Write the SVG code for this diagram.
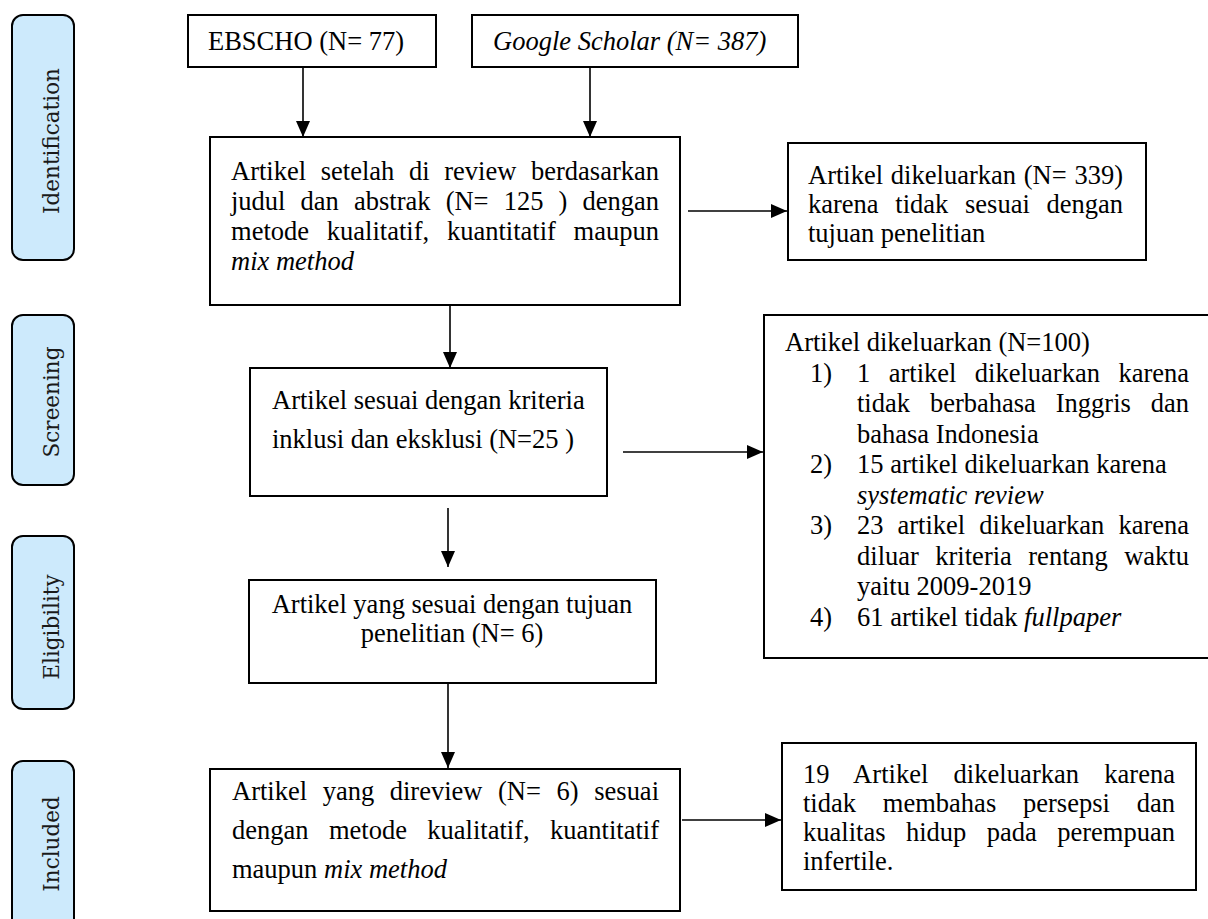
<svg xmlns="http://www.w3.org/2000/svg" width="1208" height="919" viewBox="0 0 1208 919" font-family="Liberation Serif, Times New Roman, serif">
<defs>
<style>
.box{fill:#fff;stroke:#000;stroke-width:2}
.lbl{fill:#cdeafc;stroke:#000;stroke-width:2}
.t{font-family:"Liberation Serif","Times New Roman",serif;font-size:26.5px;fill:#000}
.i{font-style:italic}
.side{font-family:"DejaVu Serif",serif;font-size:21.5px;fill:#1a1a1a;text-anchor:middle}
.conn line{stroke:#000;stroke-width:1.6;marker-end:url(#ah)}
</style>
<marker id="ah" markerUnits="userSpaceOnUse" markerWidth="16" markerHeight="14" refX="16" refY="7" orient="auto">
<path d="M0,0 L16,7 L0,14 z" fill="#000"/>
</marker>
</defs>
<rect width="1208" height="919" fill="#fff"/>

<g id="stage-identification">
<rect class="lbl" x="12" y="15" width="62" height="245" rx="11"/>
<text class="side" transform="translate(59,141) rotate(-90)">Identification</text>
</g>
<g id="stage-screening">
<rect class="lbl" x="12" y="315" width="62" height="170" rx="11"/>
<text class="side" transform="translate(59,402) rotate(-90)">Screening</text>
</g>
<g id="stage-eligibility">
<rect class="lbl" x="12" y="536" width="62" height="173" rx="11"/>
<text class="side" transform="translate(59,627) rotate(-90)">Eligibility</text>
</g>
<g id="stage-included">
<rect class="lbl" x="12" y="761" width="62" height="170" rx="11"/>
<text class="side" transform="translate(59,844) rotate(-90)">Included</text>
</g>

<g id="ebscho">
<rect class="box" x="188" y="15" width="248" height="52"/>
<text class="t" x="208" y="50">EBSCHO (N= 77)</text>
</g>
<g id="google">
<rect class="box" x="472" y="15" width="326" height="52"/>
<text class="t i" x="493" y="50">Google Scholar (N= 387)</text>
</g>

<g id="review">
<rect class="box" x="210" y="137" width="470" height="168"/>
<text class="t" x="231" y="180" word-spacing="8" textLength="428" lengthAdjust="spacing">Artikel setelah di review berdasarkan</text>
<text class="t" x="231" y="210" word-spacing="8.5" textLength="428" lengthAdjust="spacing">judul dan abstrak (N= 125 ) dengan</text>
<text class="t" x="231" y="240" word-spacing="11.1" textLength="428" lengthAdjust="spacing">metode kualitatif, kuantitatif maupun</text>
<text class="t i" x="231" y="270">mix method</text>
</g>

<g id="excluded1">
<rect class="box" x="788" y="143" width="358" height="117"/>
<text class="t" x="808" y="184" word-spacing="1.1" textLength="315" lengthAdjust="spacing">Artikel dikeluarkan (N= 339)</text>
<text class="t" x="808" y="213" word-spacing="10.1" textLength="315" lengthAdjust="spacing">karena tidak sesuai dengan</text>
<text class="t" x="808" y="242">tujuan penelitian</text>
</g>

<g id="screening">
<rect class="box" x="250" y="368" width="357" height="128"/>
<text class="t" x="272" y="409">Artikel sesuai dengan kriteria</text>
<text class="t" x="272" y="448">inklusi dan eksklusi (N=25 )</text>
</g>

<g id="excluded2">
<rect class="box" x="764" y="315" width="460" height="343"/>
<text class="t" x="785" y="351">Artikel dikeluarkan (N=100)</text>
<text class="t" x="810" y="381.5">1)</text>
<text class="t" x="857" y="381.5" word-spacing="11.8" textLength="332" lengthAdjust="spacing">1 artikel dikeluarkan karena</text>
<text class="t" x="857" y="412" word-spacing="13.3" textLength="332" lengthAdjust="spacing">tidak berbahasa Inggris dan</text>
<text class="t" x="857" y="442.5">bahasa Indonesia</text>
<text class="t" x="810" y="473">2)</text>
<text class="t" x="857" y="473">15 artikel dikeluarkan karena</text>
<text class="t i" x="857" y="503.5">systematic review</text>
<text class="t" x="810" y="534">3)</text>
<text class="t" x="857" y="534" word-spacing="7.4" textLength="332" lengthAdjust="spacing">23 artikel dikeluarkan karena</text>
<text class="t" x="857" y="564.5" word-spacing="9.8" textLength="332" lengthAdjust="spacing">diluar kriteria rentang waktu</text>
<text class="t" x="857" y="595">yaitu 2009-2019</text>
<text class="t" x="810" y="625.5">4)</text>
<text class="t" x="857" y="625.5">61 artikel tidak <tspan class="i">fullpaper</tspan></text>
</g>

<g id="eligibility">
<rect class="box" x="249" y="580" width="407" height="103"/>
<text class="t" x="452" y="613" text-anchor="middle">Artikel yang sesuai dengan tujuan</text>
<text class="t" x="452" y="642" text-anchor="middle">penelitian (N= 6)</text>
</g>

<g id="included">
<rect class="box" x="210" y="769" width="470" height="142"/>
<text class="t" x="232" y="800" word-spacing="9" textLength="427" lengthAdjust="spacing">Artikel yang direview (N= 6) sesuai</text>
<text class="t" x="232" y="839" word-spacing="13.8" textLength="427" lengthAdjust="spacing">dengan metode kualitatif, kuantitatif</text>
<text class="t" x="232" y="878">maupun <tspan class="i">mix method</tspan></text>
</g>

<g id="excluded3">
<rect class="box" x="782" y="743" width="414" height="147"/>
<text class="t" x="803" y="783" word-spacing="18.3" textLength="372" lengthAdjust="spacing">19 Artikel dikeluarkan karena</text>
<text class="t" x="803" y="812" word-spacing="20.2" textLength="372" lengthAdjust="spacing">tidak membahas persepsi dan</text>
<text class="t" x="803" y="841" word-spacing="13.8" textLength="372" lengthAdjust="spacing">kualitas hidup pada perempuan</text>
<text class="t" x="803" y="870">infertile.</text>
</g>

<g id="connectors" class="conn">
<line x1="303" y1="67" x2="303" y2="137"/>
<line x1="590" y1="67" x2="590" y2="137"/>
<line x1="688" y1="211" x2="787" y2="211"/>
<line x1="450" y1="305" x2="450" y2="368"/>
<line x1="623" y1="452" x2="763" y2="452"/>
<line x1="448" y1="508" x2="448" y2="567"/>
<line x1="448" y1="683" x2="448" y2="768"/>
<line x1="682" y1="820" x2="781" y2="820"/>
</g>
</svg>
